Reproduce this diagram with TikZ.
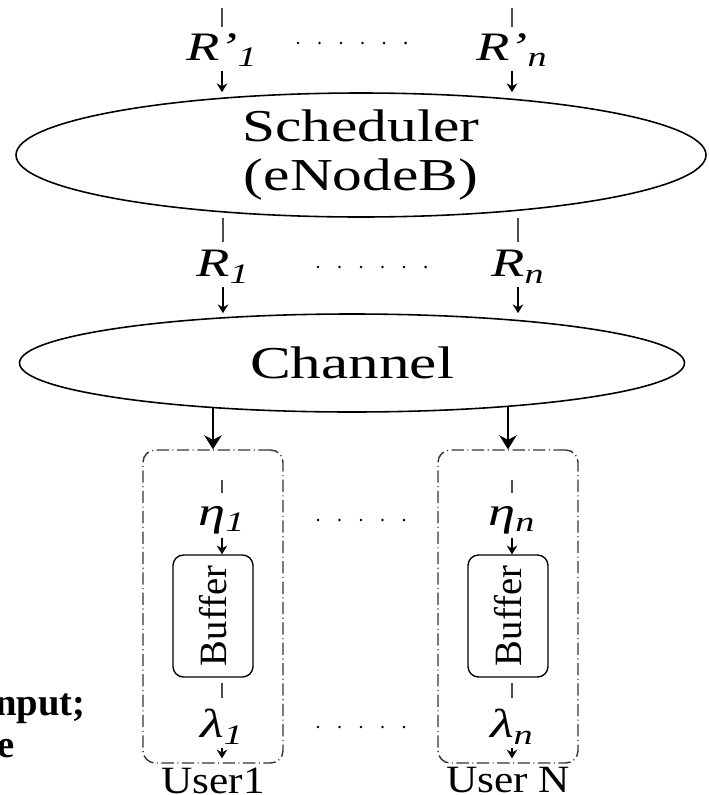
\documentclass[tikz,border=0pt]{standalone}
\usepackage{graphicx}
\usepackage{fontspec}
\setmainfont{Liberation Serif}
\usetikzlibrary{shapes,arrows.meta,positioning}
\newcommand{\pixunit}{0.02cm}
% wide text, as in the ellipses and rate labels
\newcommand{\stretched}[2][1.3]{\scalebox{#1}[1]{#2}}
\newcommand{\rate}[2]{\stretched[1.35]{\textit{#1}\textsubscript{\textit{#2}}}}
\tikzset{
    node style big/.style={draw,ellipse,line width=0.9pt,inner sep=0pt},
    node style lbl/.style={inner sep=2pt,font=\fontsize{23}{28}\selectfont},
    node style user/.style={draw=black!80,rounded corners=7pt,line width=0.8pt,
        dash pattern=on 7pt off 2pt on 0.6pt off 2pt},
    node style buf/.style={draw,rounded corners=6pt,line width=0.8pt,rotate=90,inner sep=0pt,
        minimum width=122*\pixunit,minimum height=80*\pixunit,font=\fontsize{22}{26}\selectfont},
    arrow style small/.style={-{Stealth[length=5pt,width=6pt]},line width=0.7pt},
    arrow style big/.style={-{Stealth[length=8pt,width=10pt]},line width=0.8pt},
    tick style/.style={line width=0.9pt,black!70},
    dot row/.style={line width=1.6pt,line cap=round,dash pattern=on 0pt off 12.25pt},
}

\begin{document}
\begin{tikzpicture}[x=\pixunit,y=-\pixunit]
\useasboundingbox (0,0) rectangle (708,795);

% scheduler and channel
\node [node style big,minimum width=690*\pixunit,minimum height=124*\pixunit] (sched) at (361,155) {};
\node [align=center,font=\fontsize{26}{27.8}\selectfont] (schedtxt) at (sched.center)
      {\stretched{Scheduler}\\\stretched{(eNodeB)}};
\node [node style big,minimum width=665*\pixunit,minimum height=98*\pixunit,
       font=\fontsize{26}{30}\selectfont] (chan) at (352,363) {\stretched[1.34]{Channel}};

% rates into the scheduler
\coordinate (rp1in) at (222,8);
\coordinate (rpnin) at (512,8);
\node [node style lbl] (rp1) at (222,50) {\rate{R'}{1}};
\node [node style lbl] (rpn) at (512,50) {\rate{R'}{n}};
\draw [tick style] (rp1in) -- ++(0,19);
\draw [tick style] (rpnin) -- ++(0,19);
\draw [arrow style small] (rp1.south) -- (rp1.south |- sched.north);
\draw [arrow style small] (rpn.south) -- (rpn.south |- sched.north);
\draw [dot row] (298,43) -- (410,43);

% rates out of the scheduler
\coordinate (r1in) at (223,218);
\coordinate (rnin) at (518,218);
\node [node style lbl] (r1) at (223,267) {\rate{R}{1}};
\node [node style lbl] (rn) at (518,267) {\rate{R}{n}};
\draw [tick style] (r1in) -- ++(0,24);
\draw [tick style] (rnin) -- ++(0,24);
\draw [arrow style small] (r1.south) -- (r1.south |- chan.north);
\draw [arrow style small] (rn.south) -- (rn.south |- chan.north);
\draw [dot row] (318,267) -- (430,267);

% users with their buffers
\node [node style user,minimum width=140*\pixunit,minimum height=313*\pixunit] (u1) at (213,606.5) {};
\node [node style user,minimum width=140*\pixunit,minimum height=313*\pixunit] (un) at (508,606.5) {};
\node [font=\fontsize{22}{26}\selectfont,inner sep=0pt,below=2pt of u1] (u1txt) {\stretched[1.12]{User1}};
\node [font=\fontsize{22}{26}\selectfont,inner sep=0pt,below=2pt of un] (untxt) {\stretched[1.12]{User N}};
\draw [arrow style big] (u1.north |- chan.198) -- (u1.north);
\draw [arrow style big] (un.north |- chan.345) -- (un.north);

\node [node style buf] (b1) at (213,616) {Buffer};
\node [node style buf] (bn) at (508,616) {Buffer};

\coordinate (eta1in) at (222,480);
\coordinate (etanin) at (512,480);
\node [node style lbl] (eta1) at (222,520) {\rate{η}{1}};
\node [node style lbl] (etan) at (512,520) {\rate{η}{n}};
\draw [tick style] (eta1in) -- ++(0,13);
\draw [tick style] (etanin) -- ++(0,13);
\draw [arrow style small] (eta1.south) -- (eta1.south |- b1.east);
\draw [arrow style small] (etan.south) -- (etan.south |- bn.east);
\draw [dot row] (318,520) -- (408,520);

\coordinate (lam1in) at (222,683);
\coordinate (lamnin) at (512,683);
\node [node style lbl] (lam1) at (222,727) {\rate{λ}{1}};
\node [node style lbl] (lamn) at (512,727) {\rate{λ}{n}};
\draw [tick style] (lam1in) -- ++(0,15);
\draw [tick style] (lamnin) -- ++(0,15);
\draw [arrow style small] (lam1.south) -- ([yshift=3pt]lam1.south |- u1.south);
\draw [arrow style small] (lamn.south) -- ([yshift=3pt]lamn.south |- un.south);
\draw [dot row] (318,727) -- (408,727);

% text cut at the left edge
\node [anchor=base west,inner sep=0pt,font=\fontsize{22}{26}\selectfont\bfseries] (inpt) at (-5,715) {nput;};
\node [anchor=base west,inner sep=0pt,font=\fontsize{22}{26}\selectfont\bfseries] (etxt) at (-3,757) {e};
\end{tikzpicture}
\end{document}
